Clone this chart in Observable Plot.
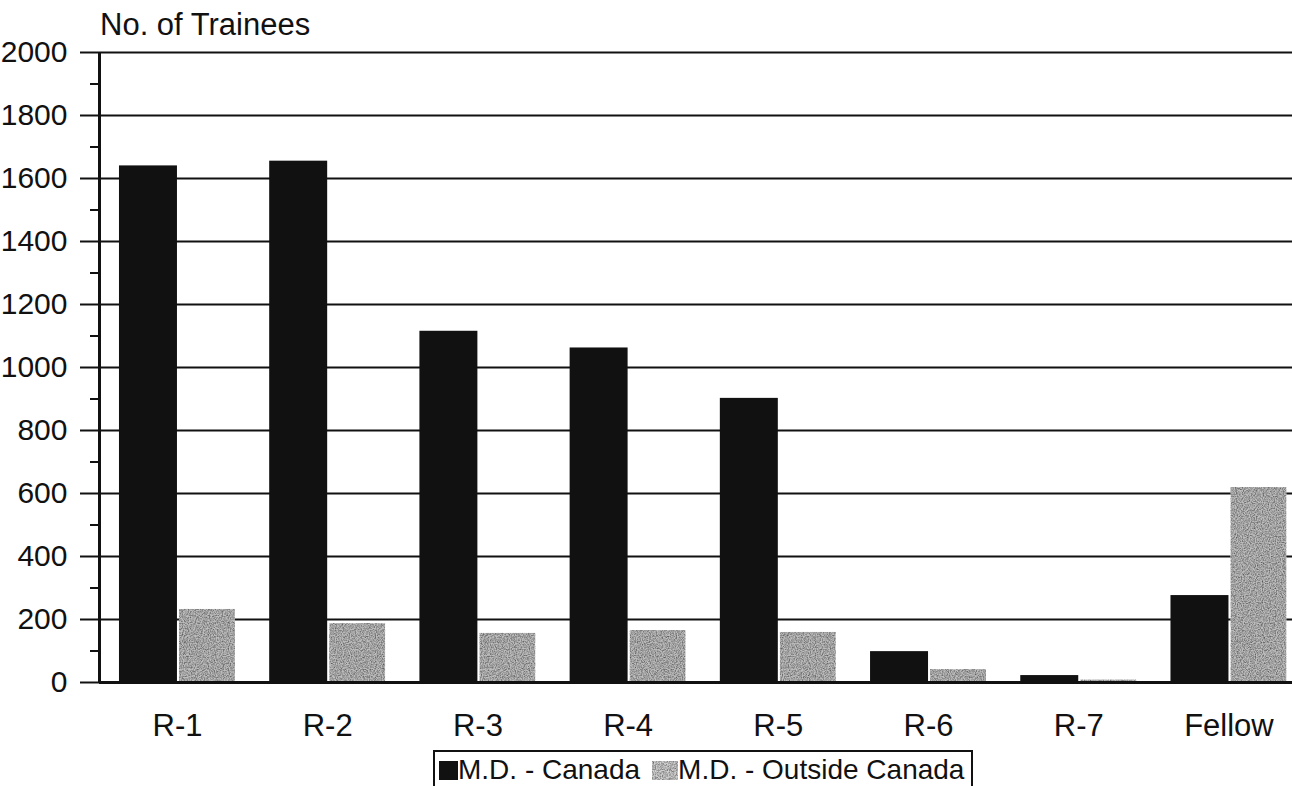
<!DOCTYPE html>
<html>
<head>
<meta charset="utf-8">
<script src="https://cdn.jsdelivr.net/npm/d3@7"></script>
<script src="https://cdn.jsdelivr.net/npm/@observablehq/plot@0.6"></script>
<style>
  html, body { margin: 0; padding: 0; background: #fff; overflow: hidden; }
  #wrap { position: relative; width: 1292px; height: 786px; overflow: hidden; font-family: "Liberation Sans", Arial, sans-serif; }
  #chart { position: absolute; left: 0; top: 0; }
  #title { position: absolute; left: 100px; top: 9px; font-size: 31px; line-height: 1; color: #111; white-space: nowrap; }
  #legend { position: absolute; left: 433px; top: 750px; width: 540px; height: 48px; border: 2px solid #111; box-sizing: border-box; font-size: 28px; line-height: 1; color: #111; white-space: nowrap; display: flex; align-items: flex-start; padding-top: 4px; padding-left: 4px; }
  .sw { display: inline-block; width: 19px; height: 19px; margin-top: 5px; }
  .item { display: flex; align-items: flex-start; }
</style>
</head>
<body>
<div id="wrap">
  <div id="chart"></div>
  <div id="title">No. of Trainees</div>
  <div id="legend"></div>
</div>
<script>
// ---- data ----
const categories = ["R-1", "R-2", "R-3", "R-4", "R-5", "R-6", "R-7", "Fellow"];
const seriesNames = ["M.D. - Canada", "M.D. - Outside Canada"];
const canada = [1640, 1655, 1115, 1062, 902, 98, 22, 276];
const outside = [232, 187, 156, 165, 159, 41, 8, 619];
const yMajorTicks = [0, 200, 400, 600, 800, 1000, 1200, 1400, 1600, 1800, 2000];
const yMinorTicks = [100, 300, 500, 700, 900, 1100, 1300, 1500, 1700, 1900];

// ---- layout constants ----
const barW = 0.386;               // bar width in category units
const xDomain = [-0.519, 7.423];  // category index space
const black = "#111";
const grayFill = "#bdbdbd";

const rows = categories.map((c, i) => ({ i, cat: c, canada: canada[i], outside: outside[i] }));

const plot = Plot.plot({
  width: 1292,
  height: 742,
  marginLeft: 99,
  marginRight: 0,
  marginTop: 52,
  marginBottom: 60,
  style: { fontFamily: "Liberation Sans, Arial, sans-serif", color: black, background: "transparent" },
  x: { type: "linear", domain: xDomain, axis: null },
  y: { domain: [0, 2000], axis: null },
  marks: [
    // horizontal gridlines
    Plot.ruleY(yMajorTicks, { stroke: black, strokeWidth: 2 }),
    // bars
    Plot.rectY(rows, { x1: d => d.i - barW, x2: d => d.i, y1: 0, y2: "canada", fill: black }),
    Plot.rectY(rows, { x1: d => d.i, x2: d => d.i + barW, y1: 0, y2: "outside", fill: grayFill, insetLeft: 2, ariaDescription: "outside-bars" }),
    // baseline and vertical axis line
    Plot.ruleY([0], { stroke: black, strokeWidth: 3 }),
    Plot.ruleX([xDomain[0]], { y1: 0, y2: 2000, stroke: black, strokeWidth: 3 }),
    // y axis: major + minor ticks
    Plot.axisY({ ticks: yMajorTicks, tickSize: 19, tickPadding: 13, tickFormat: d => String(d), fontSize: 30, stroke: black, strokeWidth: 2 }),
    Plot.axisY({ ticks: yMinorTicks, tickSize: 9, tickFormat: () => "", stroke: black, strokeWidth: 2 }),
    // x axis labels
    Plot.axisX({ ticks: categories.map((c, i) => i), tickFormat: i => categories[i], tickSize: 0, tickPadding: 31, fontSize: 31 })
  ]
});

// grain texture for the gray bars
const ns = "http://www.w3.org/2000/svg";
const defs = document.createElementNS(ns, "defs");
defs.innerHTML = `
<filter id="grain" x="0" y="0" width="100%" height="100%" color-interpolation-filters="sRGB">
  <feTurbulence type="fractalNoise" baseFrequency="0.85" numOctaves="2" seed="5" result="noise"/>
  <feColorMatrix in="noise" type="saturate" values="0" result="gn"/>
  <feComponentTransfer in="gn" result="gc">
    <feFuncR type="linear" slope="1.3" intercept="0.2"/>
    <feFuncG type="linear" slope="1.3" intercept="0.2"/>
    <feFuncB type="linear" slope="1.3" intercept="0.2"/>
    <feFuncA type="table" tableValues="1 1"/>
  </feComponentTransfer>
  <feBlend in="SourceGraphic" in2="gc" mode="multiply" result="b"/>
  <feComposite in="b" in2="SourceGraphic" operator="in"/>
</filter>`;
plot.insertBefore(defs, plot.firstChild);
const og = plot.querySelector('g[aria-description="outside-bars"]');
if (og) og.querySelectorAll("rect").forEach(r => r.setAttribute("filter", "url(#grain)"));

document.getElementById("chart").appendChild(plot);

// legend
const legend = document.getElementById("legend");
const swatchStyles = [`background:${black}`, `background:#d0d0d0`];
seriesNames.forEach((name, k) => {
  const item = document.createElement("span");
  item.className = "item";
  item.style.marginRight = k === 0 ? "12px" : "0";
  const sw = document.createElement("span");
  sw.className = "sw";
  sw.setAttribute("style", swatchStyles[k] + (k === 1 ? ";width:26px;filter:url(#grain)" : ""));
  const t = document.createElement("span");
  t.textContent = name;
  item.appendChild(sw);
  item.appendChild(t);
  legend.appendChild(item);
});
</script>
</body>
</html>
